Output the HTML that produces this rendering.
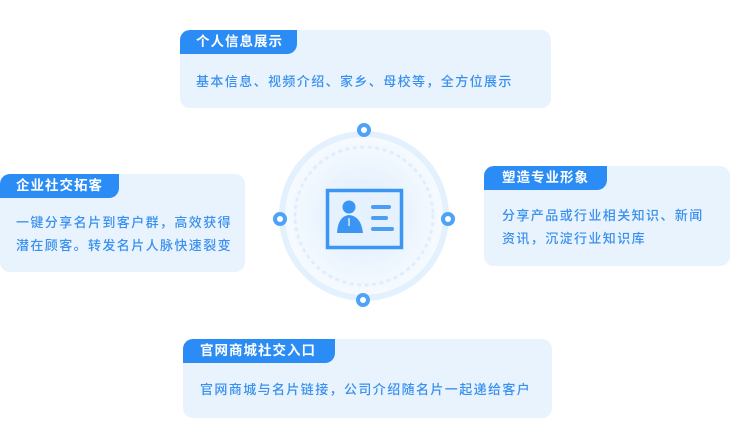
<!DOCTYPE html>
<html><head><meta charset="utf-8"><style>
body{margin:0;width:730px;height:439px;background:#fff;position:relative;overflow:hidden;font-family:"Liberation Sans","Noto Sans CJK SC",sans-serif}
.card{position:absolute;background:#e8f3fd;border-radius:10px;overflow:hidden}
.tab{position:absolute;left:0;top:0;height:24px;background:#2a8cf4;color:#fff;font-weight:bold;font-size:13.5px;letter-spacing:1px;line-height:24px;border-bottom-right-radius:10px;box-sizing:border-box}
.txt{position:absolute;color:#3a90ee;font-size:13px;font-weight:500;letter-spacing:1.4px;line-height:23px;white-space:nowrap}
</style></head><body>
<div class="card" style="left:180px;top:30px;width:371px;height:78px">
 <div class="tab" style="width:117px;padding-left:16px">个人信息展示</div>
 <div class="txt" style="left:16px;top:40px">基本信息、视频介绍、家乡、母校等，全方位展示</div>
</div>
<div class="card" style="left:0;top:174px;width:245px;height:98px">
 <div class="tab" style="width:119px;padding-left:16px">企业社交拓客</div>
 <div class="txt" style="left:16px;top:37px">一键分享名片到客户群，高效获得<br>潜在顾客。转发名片人脉快速裂变</div>
</div>
<div class="card" style="left:484px;top:166px;width:246px;height:100px">
 <div class="tab" style="width:123px;padding-left:18px">塑造专业形象</div>
 <div class="txt" style="left:18px;top:38px">分享产品或行业相关知识、新闻<br>资讯，沉淀行业知识库</div>
</div>
<div class="card" style="left:183px;top:339px;width:369px;height:79px">
 <div class="tab" style="width:152px;padding-left:17px">官网商城社交入口</div>
 <div class="txt" style="left:17px;top:39px">官网商城与名片链接，公司介绍随名片一起递给客户</div>
</div>
<svg style="position:absolute;left:0;top:0" width="730" height="439">
 <defs><radialGradient id="g"><stop offset="0" stop-color="#dcecfd"/><stop offset="1" stop-color="#f7fbff"/></radialGradient></defs>
 <circle cx="364" cy="216" r="82" fill="url(#g)" stroke="#e3f0fd" stroke-width="6"/>
 <circle cx="364" cy="216" r="69" fill="none" stroke="#e0eefc" stroke-width="3" stroke-dasharray="1.5 6" stroke-linecap="round"/>
 <g fill="#fff" stroke="#4ea3f6" stroke-width="4">
  <circle cx="364" cy="130" r="5"/><circle cx="363" cy="300" r="5"/>
  <circle cx="280" cy="219" r="5"/><circle cx="448" cy="219" r="5"/>
 </g>
 <rect x="327.5" y="190.5" width="74" height="57" fill="#e5f1fd" stroke="#3b95f4" stroke-width="3.5"/>
 <circle cx="349" cy="207" r="6.5" fill="#3b95f4"/>
 <path d="M337 233 Q338 216 349 215 Q361 216 363 233 Z" fill="#3b95f4"/>
 <line x1="349" y1="218" x2="349" y2="226" stroke="#fff" stroke-width="1.2"/>
 <g stroke="#4a9ff5" stroke-width="4" stroke-linecap="round">
  <line x1="373" y1="207" x2="389" y2="207"/><line x1="373" y1="218" x2="386" y2="218"/><line x1="373" y1="229" x2="392" y2="229"/>
 </g>
</svg>
</body></html>
